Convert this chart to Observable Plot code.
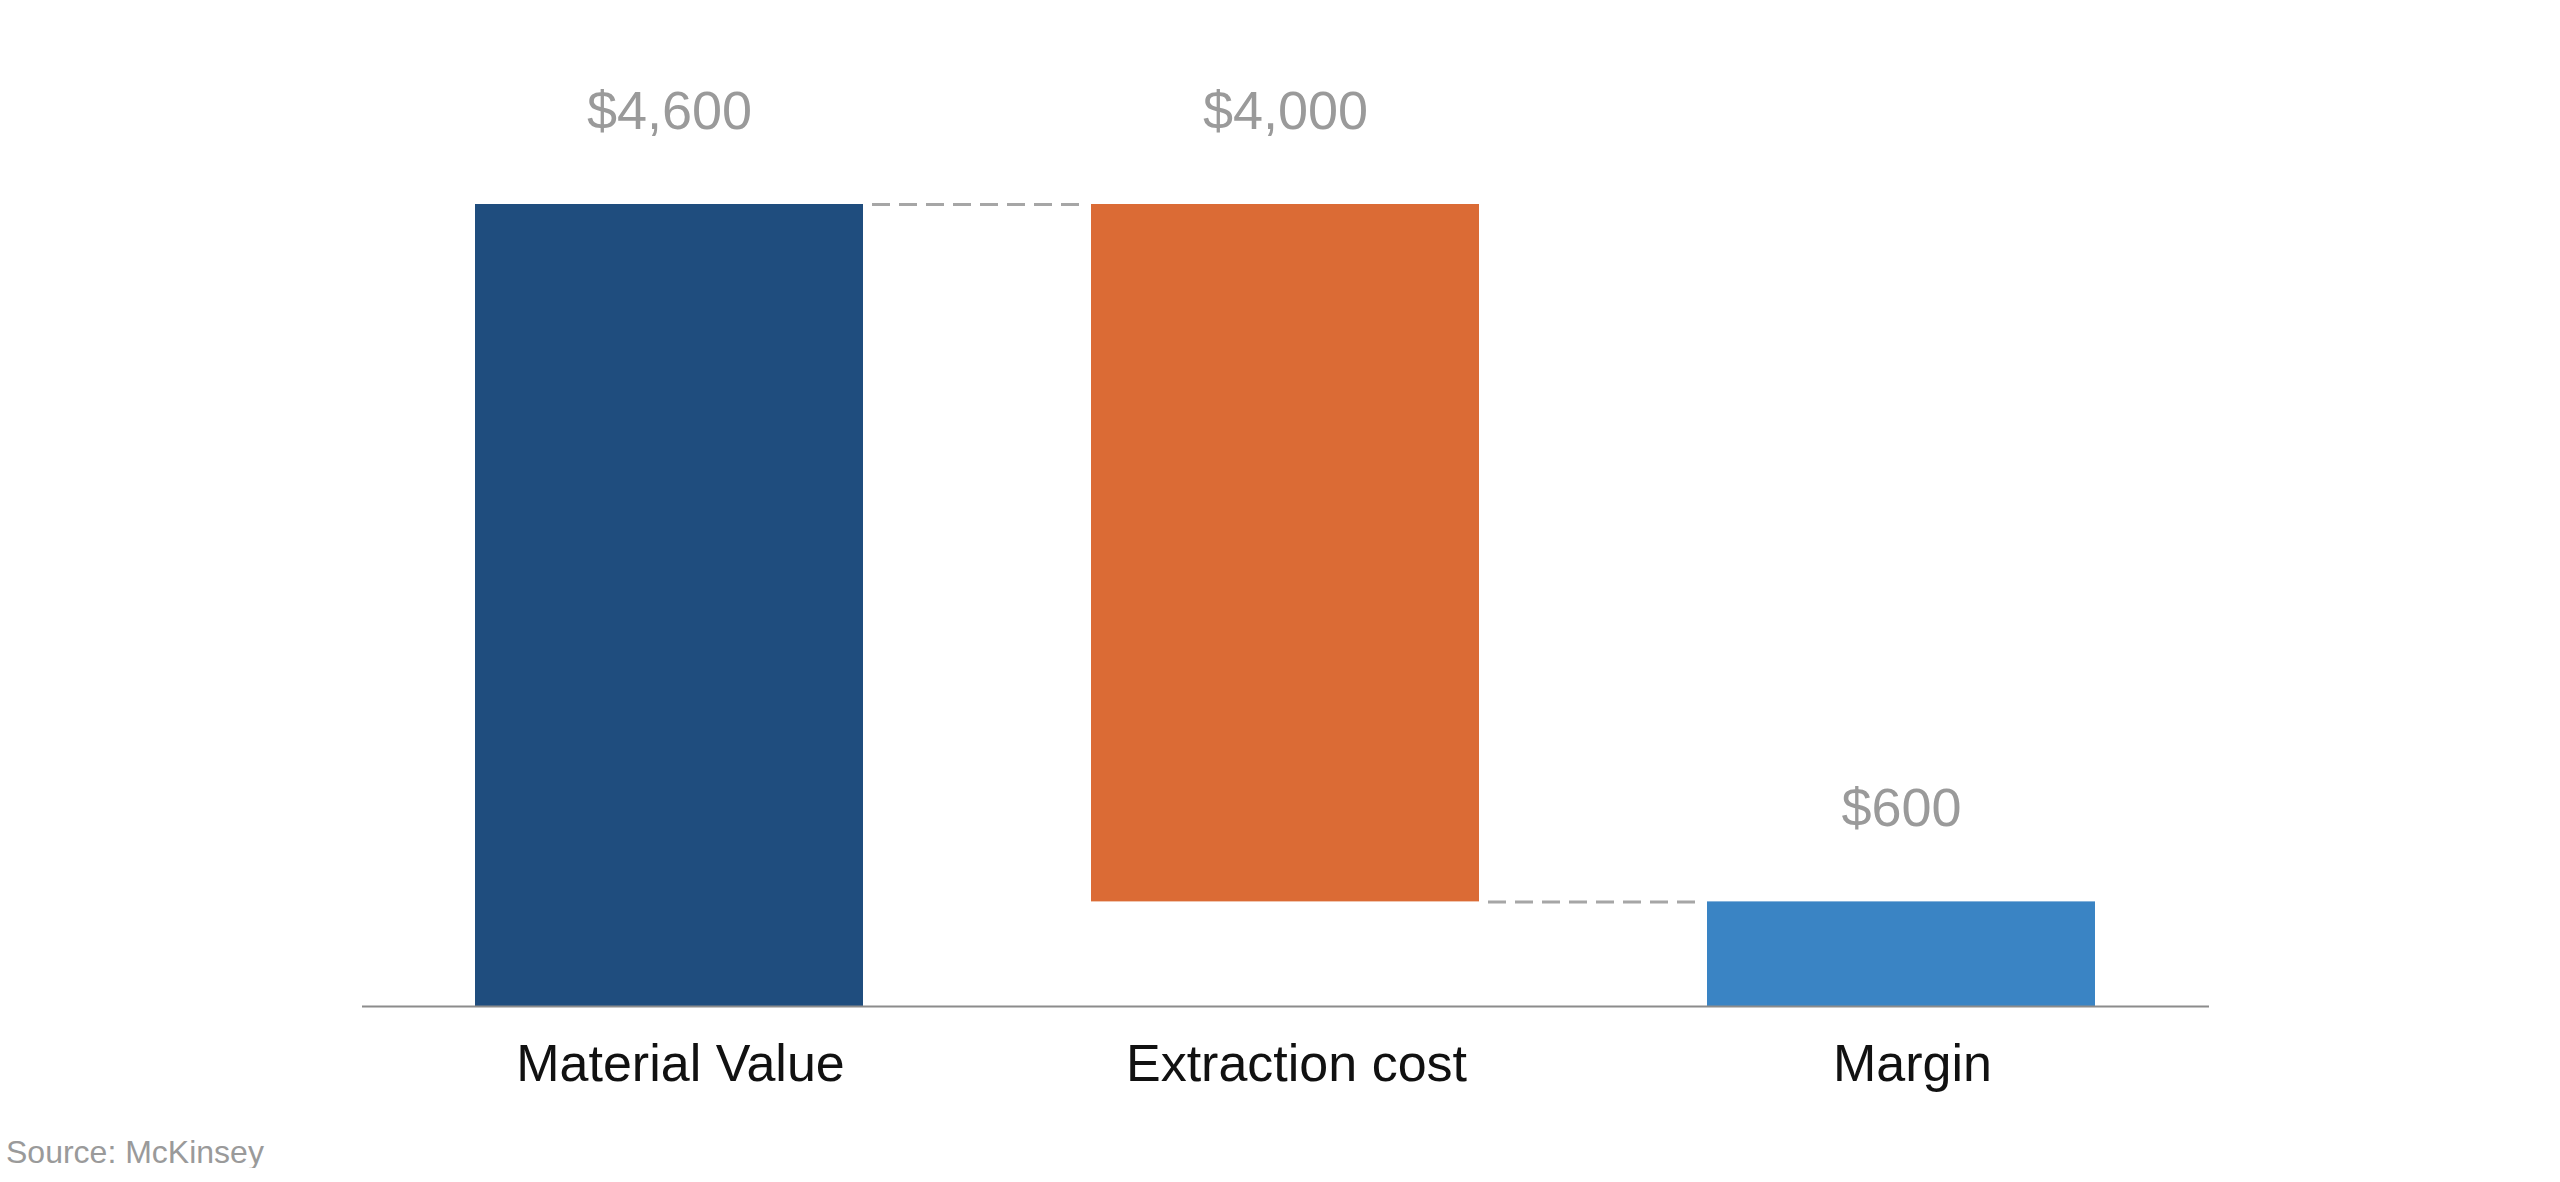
<!DOCTYPE html>
<html>
<head>
<meta charset="utf-8">
<script src="https://cdn.jsdelivr.net/npm/d3@7"></script>
<script src="https://cdn.jsdelivr.net/npm/@observablehq/plot@0.6"></script>
<style>
  html, body { margin: 0; padding: 0; background: #ffffff; }
  #chart svg { display: block; }
  .caption { font-family: "Liberation Sans", Arial, sans-serif; font-size: 32px; line-height: 32px; color: #9a9a9a; padding-left: 6px; margin-top: 11px; }
</style>
</head>
<body>
<div id="chart"></div>
<div class="caption">Source: McKinsey</div>
<script>
// Data
const categories = ["Material Value", "Extraction cost", "Margin"];
const barLow = [0, 600, 0];
const barHigh = [4600, 4600, 600];
const valueLabels = ["$4,600", "$4,000", "$600"];
const barColors = ["#1f4d7e", "#db6b35", "#3a84c4"];
const connectorFrom = ["Material Value", "Extraction cost"];
const connectorTo = ["Extraction cost", "Margin"];
const connectorLevel = [4600, 600];

const bars = categories.map((c, i) => ({cat: c, low: barLow[i], high: barHigh[i], label: valueLabels[i], color: barColors[i]}));
const connectors = connectorFrom.map((f, i) => ({from: f, to: connectorTo[i], level: connectorLevel[i]}));

const W = 2560, H = 1125;
const xOpts = {domain: categories, paddingInner: 0.37, paddingOuter: 0.183};
const base = {
  width: W, height: H,
  marginLeft: 362, marginRight: 351, marginTop: 204, marginBottom: H - 1006,
  style: {fontFamily: "'Liberation Sans', Arial, sans-serif", background: "#ffffff"},
  y: {domain: [0, 4600], axis: null},
};

// probe to get the band width of the x scale
const probe = Plot.plot({...base, x: {...xOpts, axis: null}, marks: [Plot.barY(bars, {x: "cat", y1: "low", y2: "high"})]});
const bw = probe.scale("x").bandwidth;
const gap = 9;

const chart = Plot.plot({
  ...base,
  x: {...xOpts, axis: null},
  marks: [
    Plot.barY(bars, {x: "cat", y1: "low", y2: "high", fill: "color"}),
    Plot.ruleY(connectors, {x1: "from", x2: "to", y: "level", stroke: "#a6a6a6", strokeWidth: 3, strokeDasharray: "18,9", insetLeft: bw + gap, insetRight: bw + gap}),
    Plot.ruleY([0], {stroke: "#8c8c8c", strokeWidth: 2}),
    Plot.text(bars, {x: "cat", y: "high", text: "label", lineAnchor: "bottom", dy: -76, fontSize: 54, fill: "#9a9a9a"}),
    Plot.axisX({tickSize: 0, tickPadding: 38, dx: 11, fontSize: 52, fill: "#111111", label: null})
  ]
});
document.getElementById("chart").appendChild(chart);
</script>
</body>
</html>
